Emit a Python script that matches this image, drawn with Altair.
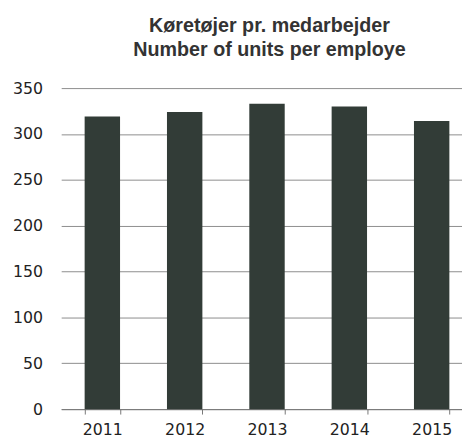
import altair as alt
import pandas as pd

years = ["2011", "2012", "2013", "2014", "2015"]
values = [319, 324, 333, 330, 314]
title_lines = ["Køretøjer pr. medarbejder", "Number of units per employe"]
y_ticks = [0, 50, 100, 150, 200, 250, 300, 350]

df = pd.DataFrame({"year": years, "value": values})

label_font = "DejaVu Sans"

chart = alt.Chart(df).mark_bar(color="#323c37").encode(
    x=alt.X(
        "year:N",
        sort=years,
        scale=alt.Scale(paddingInner=0.57, paddingOuter=0.285, range=[0, 418]),
        axis=alt.Axis(
            title=None,
            labelAngle=0,
            tickBand="extent",
            grid=False,
            domainColor="#777777",
            tickColor="#777777",
            tickSize=5,
            labelPadding=8,
            labelFont=label_font,
            labelFontSize=16,
            labelColor="#222222",
        ),
    ),
    y=alt.Y(
        "value:Q",
        scale=alt.Scale(domain=[0, 350]),
        axis=alt.Axis(
            title=None,
            values=y_ticks,
            domain=False,
            ticks=False,
            grid=True,
            gridColor="#8c8c8c",
            gridWidth=1,
            labelPadding=19,
            labelFont=label_font,
            labelFontSize=16,
            labelColor="#222222",
        ),
    ),
).properties(
    width=407,
    height=326,
    padding={"left": 54, "top": 78, "right": 0, "bottom": 27},
    autosize=alt.AutoSizeParams(type="none"),
    title=alt.TitleParams(
        text=title_lines,
        font="Liberation Sans",
        fontSize=20,
        fontWeight="bold",
        color="#333333",
        anchor="middle",
        lineHeight=24,
        offset=21,
        dx=8,
    ),
).configure_view(stroke=None)

chart.save("out.html", embed_options={"renderer": "svg", "actions": False})
